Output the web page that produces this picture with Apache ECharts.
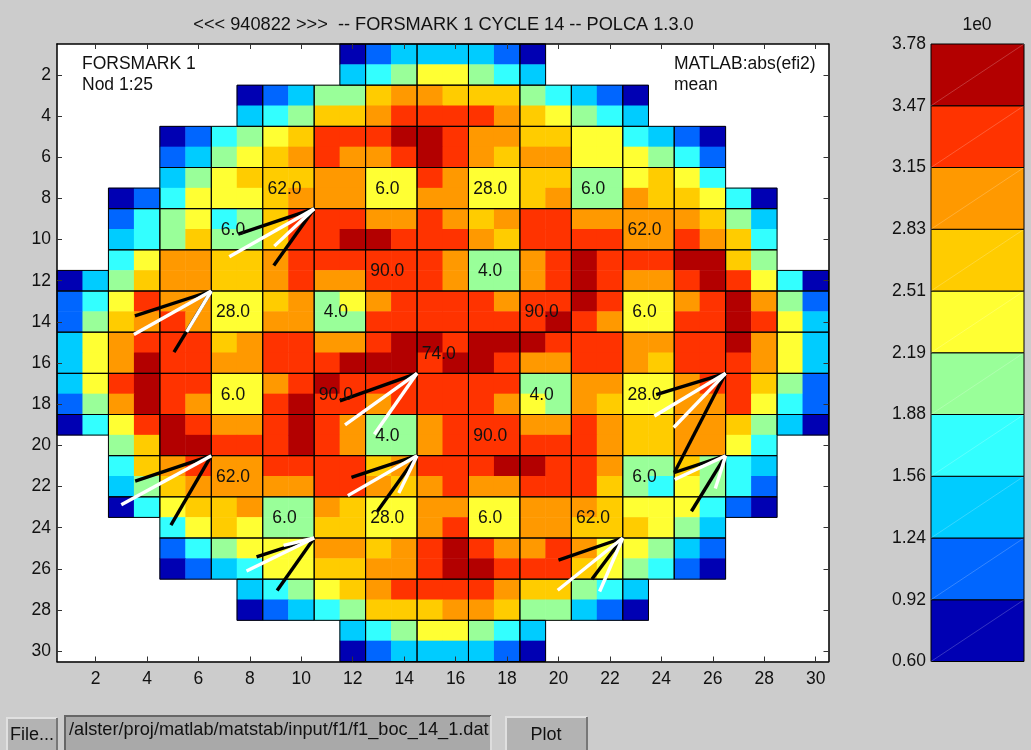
<!DOCTYPE html>
<html>
<head>
<meta charset="utf-8">
<style>html,body{margin:0;padding:0;background:#cccccc;}#c{width:1031px;height:750px;}</style>
<script src="https://cdn.jsdelivr.net/npm/echarts@6/dist/echarts.min.js"></script>
</head>
<body>
<div id="c"></div>
<script>
var axisNumbers = Array.from({length: 30}, function (_, i) { return String(i + 1); });
var colourBinEdges = [0.60, 0.92, 1.24, 1.56, 1.88, 2.19, 2.51, 2.83, 3.15, 3.47, 3.78];
var colourBinLabels = ['0.60','0.92','1.24','1.56','1.88','2.19','2.51','2.83','3.15','3.47','3.78'];
var binColours = ['#0000b3','#0066ff','#00ccff','#33ffff','#99ff99','#ffff33','#ffcc00','#ff9900','#ff3300','#b30000'];
// first occupied column of every row, and the colour bin of each occupied cell
var rowStart = [12,12,8,8,5,5,5,3,3,3,3,1,1,1,1,1,1,1,1,3,3,3,3,5,5,5,8,8,12,12];
var rowBins = [
 '01222210','23455432',
 '0124467766643210','2346678888765432',
 '0134568889987766553210','1245678778987677555431','2456667755875566445653',
 '01355567775577556744766530','13453468887787678877777642','23464468899888768888778763','35776678888887447898889964',
 '024677667877888744789877898530',
 '135877556745788887889855789741',
 '146787557744888888898755889852',
 '257888678877899899988877889752',
 '257988778889998998778876888752',
 '258988557898888888447755788641',
 '147987558988788887547655778531',
 '035898778987447888778766776420',
 '46998889874478888887667753','36787788886788899887446432','24677777887678778886435431','03566744765577557776555310',
 '3565446655785577666542','1345557767898778755421','0123556677899888654310',
 '2345678888766432','0123466677644210',
 '23455432','01222210'
];
// assembly labels: [column centre, row centre, text]
var assemblyLabels = [
 [9.5,7.5,'62.0'],[13.5,7.5,'6.0'],[17.5,7.5,'28.0'],[21.5,7.5,'6.0'],
 [7.5,9.5,'6.0'],[23.5,9.5,'62.0'],
 [13.5,11.5,'90.0'],[17.5,11.5,'4.0'],
 [7.5,13.5,'28.0'],[11.5,13.5,'4.0'],[19.5,13.5,'90.0'],[23.5,13.5,'6.0'],
 [15.5,15.5,'74.0'],
 [7.5,17.5,'6.0'],[11.5,17.5,'90.0'],[19.5,17.5,'4.0'],[23.5,17.5,'28.0'],
 [13.5,19.5,'4.0'],[17.5,19.5,'90.0'],
 [7.5,21.5,'62.0'],[23.5,21.5,'6.0'],
 [9.5,23.5,'6.0'],[13.5,23.5,'28.0'],[17.5,23.5,'6.0'],[21.5,23.5,'62.0']
];
// vectors: [hub column, hub row, end column, end row]
var blackVectors = [
 [10.5,8.5,7.55,9.74],[10.5,8.5,8.93,11.26],
 [6.5,12.5,3.53,13.71],[6.5,12.5,5.05,15.47],
 [14.5,16.5,11.5,17.84],
 [6.5,20.5,3.54,21.74],[6.5,20.5,4.93,23.87],
 [14.5,20.5,11.95,21.55],[14.5,20.5,12.96,23.2],
 [10.5,24.5,8.26,25.42],[10.5,24.5,9.06,27.05],
 [26.5,16.5,23.8,17.53],[26.5,16.5,24.52,21.29],
 [26.5,20.5,24.48,21.33],[26.5,20.5,25.17,23.2],
 [22.5,24.5,20.0,25.58],[22.5,24.5,21.3,26.5]
];
var whiteVectors = [
 [10.5,8.5,7.2,10.84],[10.5,8.5,8.95,10.32],
 [6.5,12.5,3.49,14.61],[6.5,12.5,5.54,14.49],
 [14.5,16.5,11.7,19.0],[14.5,16.5,12.84,19.46],
 [6.5,20.5,3.0,22.88],
 [14.5,20.5,11.81,22.44],[14.5,20.5,13.79,22.31],
 [10.5,24.5,7.87,26.1],[10.5,24.5,9.31,24.86],
 [26.5,16.5,23.73,18.57],[26.5,16.5,24.48,19.13],
 [26.5,20.5,24.52,21.66],[26.5,20.5,26.1,22.1],
 [22.5,24.5,19.97,27.04],[22.5,24.5,21.6,27.1]
];
var titleText = '<<< 940822 >>>  -- FORSMARK 1 CYCLE 14 -- POLCA 1.3.0';
var filePath = '/alster/proj/matlab/matstab/input/f1/f1_boc_14_1.dat';

var FONT = '"Liberation Sans", Arial, sans-serif';
var FS = 17.5;
var GX = 57, GY = 44, GW = 771.5, GH = 617.5;
var BX = 931, BW = 93;

// cells for the heatmap: [column index, row index, value in the middle of its bin]
var heatCells = [];
rowBins.forEach(function (s, r) {
  s.split('').forEach(function (ch, i) {
    var b = +ch;
    heatCells.push([rowStart[r] - 1 + i, r, (colourBinEdges[b] + colourBinEdges[b + 1]) / 2]);
  });
});
// 2x2 assembly outlines: bounding box of the occupied cells in each block
var assemblies = [];
for (var br = 0; br < 15; br++) {
  for (var bc = 0; bc < 15; bc++) {
    var cs = [], rs = [];
    heatCells.forEach(function (c) {
      if (Math.floor(c[0] / 2) === bc && Math.floor(c[1] / 2) === br) { cs.push(c[0] + 1); rs.push(c[1] + 1); }
    });
    if (cs.length) assemblies.push([Math.min.apply(null, cs) - .5, Math.min.apply(null, rs) - .5, Math.max.apply(null, cs) + .5, Math.max.apply(null, rs) + .5]);
  }
}
function everySecond(i) { return i % 2 === 1; }
function catAxis(extra) {
  return Object.assign({
    type: 'category', data: axisNumbers, boundaryGap: true, z: 10,
    axisLine: {show: true, onZero: false, lineStyle: {color: '#000', width: 1.5}},
    axisTick: {show: true, inside: true, length: 5, alignWithLabel: true, interval: everySecond, lineStyle: {color: '#333', width: 1}},
    splitLine: {show: false}, splitArea: {show: false}
  }, extra);
}
function hiddenValue(extra) {
  return Object.assign({type: 'value', min: 0.5, max: 30.5, show: false, splitLine: {show: false}}, extra);
}
function lineRender(color, w) {
  return function (p, api) {
    var a = api.coord([api.value(0), api.value(1)]);
    var b = api.coord([api.value(2), api.value(3)]);
    return {type: 'line', shape: {x1: a[0], y1: a[1], x2: b[0], y2: b[1]}, style: {stroke: color, lineWidth: w, lineCap: 'butt'}};
  };
}
function text(x, y, s, size, align) {
  return {type: 'text', x: x, y: y, z: 20, style: {text: s, fill: '#111', font: size + 'px ' + FONT, textAlign: align || 'left', textVerticalAlign: 'middle'}};
}
function bevel(x, y, w, h, fill, tl, br_) {
  return [
    {type: 'rect', shape: {x: x, y: y, width: w, height: h}, style: {fill: fill}},
    {type: 'polyline', shape: {points: [[x, y + h], [x, y], [x + w, y]]}, style: {fill: 'none', stroke: tl, lineWidth: 2}},
    {type: 'polyline', shape: {points: [[x + w, y], [x + w, y + h]]}, style: {fill: 'none', stroke: br_, lineWidth: 2}}
  ];
}

var chart = echarts.init(document.getElementById('c'), null, {renderer: 'canvas'});
chart.setOption({
  animation: false,
  backgroundColor: '#cccccc',
  grid: [
    {left: GX, top: GY, width: GW, height: GH, show: true, backgroundColor: '#ffffff', borderWidth: 0},
    {left: BX, top: GY, width: BW, height: GH, show: false}
  ],
  xAxis: [
    catAxis({gridIndex: 0, position: 'bottom', axisLabel: {show: true, interval: everySecond, color: '#111', fontFamily: FONT, fontSize: FS, margin: 9}}),
    catAxis({gridIndex: 0, position: 'top', axisLabel: {show: false}}),
    hiddenValue({gridIndex: 0}),
    {type: 'value', gridIndex: 1, min: 0, max: 1, show: false, splitLine: {show: false}}
  ],
  yAxis: [
    catAxis({gridIndex: 0, inverse: true, position: 'left', axisLabel: {show: true, interval: everySecond, color: '#111', fontFamily: FONT, fontSize: FS, margin: 6}}),
    catAxis({gridIndex: 0, inverse: true, position: 'right', axisLabel: {show: false}}),
    hiddenValue({gridIndex: 0, inverse: true}),
    {type: 'category', gridIndex: 1, data: colourBinLabels, boundaryGap: false, position: 'left',
     axisLine: {show: false}, axisTick: {show: false}, splitLine: {show: false},
     axisLabel: {show: true, interval: 0, color: '#111', fontFamily: FONT, fontSize: FS, margin: 5}}
  ],
  visualMap: {
    type: 'piecewise', show: false, seriesIndex: 0, dimension: 2,
    pieces: binColours.map(function (c, i) { return {gte: colourBinEdges[i], lt: colourBinEdges[i + 1], color: c}; })
  },
  series: [
    {type: 'heatmap', xAxisIndex: 0, yAxisIndex: 0, data: heatCells, progressive: 0, z: 2,
     itemStyle: {borderWidth: 0}, emphasis: {disabled: true}},
    {type: 'custom', xAxisIndex: 2, yAxisIndex: 2, z: 3, silent: true, data: assemblies,
     renderItem: function (p, api) {
       var a = api.coord([api.value(0), api.value(1)]);
       var b = api.coord([api.value(2), api.value(3)]);
       return {type: 'rect', shape: {x: a[0], y: a[1], width: b[0] - a[0], height: b[1] - a[1]}, style: {fill: 'none', stroke: '#000', lineWidth: 1}};
     }},
    {type: 'custom', xAxisIndex: 2, yAxisIndex: 2, z: 4, silent: true, data: blackVectors, renderItem: lineRender('#000', 3.4)},
    {type: 'custom', xAxisIndex: 2, yAxisIndex: 2, z: 5, silent: true, data: whiteVectors, renderItem: lineRender('#fff', 3.4)},
    {type: 'custom', xAxisIndex: 2, yAxisIndex: 2, z: 6, silent: true, data: assemblyLabels,
     encode: {x: 0, y: 1},
     renderItem: function (p, api) {
       var a = api.coord([api.value(0), api.value(1)]);
       return {type: 'text', x: a[0] - 4, y: a[1] + 1, style: {text: assemblyLabels[p.dataIndex][2], fill: '#111', font: FS + 'px ' + FONT, textAlign: 'center', textVerticalAlign: 'middle'}};
     }},
    {type: 'custom', xAxisIndex: 3, yAxisIndex: 3, z: 3, silent: true,
     data: binColours.map(function (c, i) { return [i]; }),
     renderItem: function (p, api) {
       var i = api.value(0);
       var a = api.coord([0, i]);
       var b = api.coord([1, i + 1]);
       return {type: 'group', children: [
         {type: 'rect', shape: {x: a[0], y: b[1], width: b[0] - a[0], height: a[1] - b[1]}, style: {fill: binColours[i], stroke: '#000', lineWidth: 1}},
         {type: 'line', shape: {x1: a[0], y1: a[1], x2: b[0], y2: b[1]}, style: {stroke: 'rgba(255,255,255,0.3)', lineWidth: 0.7}}
       ]};
     }}
  ],
  graphic: [
    text(443.5, 25, titleText, 18.2, 'center'),
    text(82, 64, 'FORSMARK 1', FS),
    text(82, 85.5, 'Nod 1:25', FS),
    text(674, 64, 'MATLAB:abs(efi2)', FS),
    text(674, 85.5, 'mean', FS),
    text(977, 25, '1e0', FS, 'center')
  ].concat(
    bevel(7, 718, 50, 34, '#b3b3b3', '#e0e0e0', '#777'),
    [text(32, 735, 'File...', 18, 'center')],
    bevel(65, 716, 426, 36, '#a9a9a9', '#666', '#ddd'),
    [text(69, 730, filePath, 18.2)],
    bevel(506, 717, 81, 35, '#b3b3b3', '#e0e0e0', '#777'),
    [text(546, 735, 'Plot', 18, 'center')]
  )
});
</script>
</body>
</html>
